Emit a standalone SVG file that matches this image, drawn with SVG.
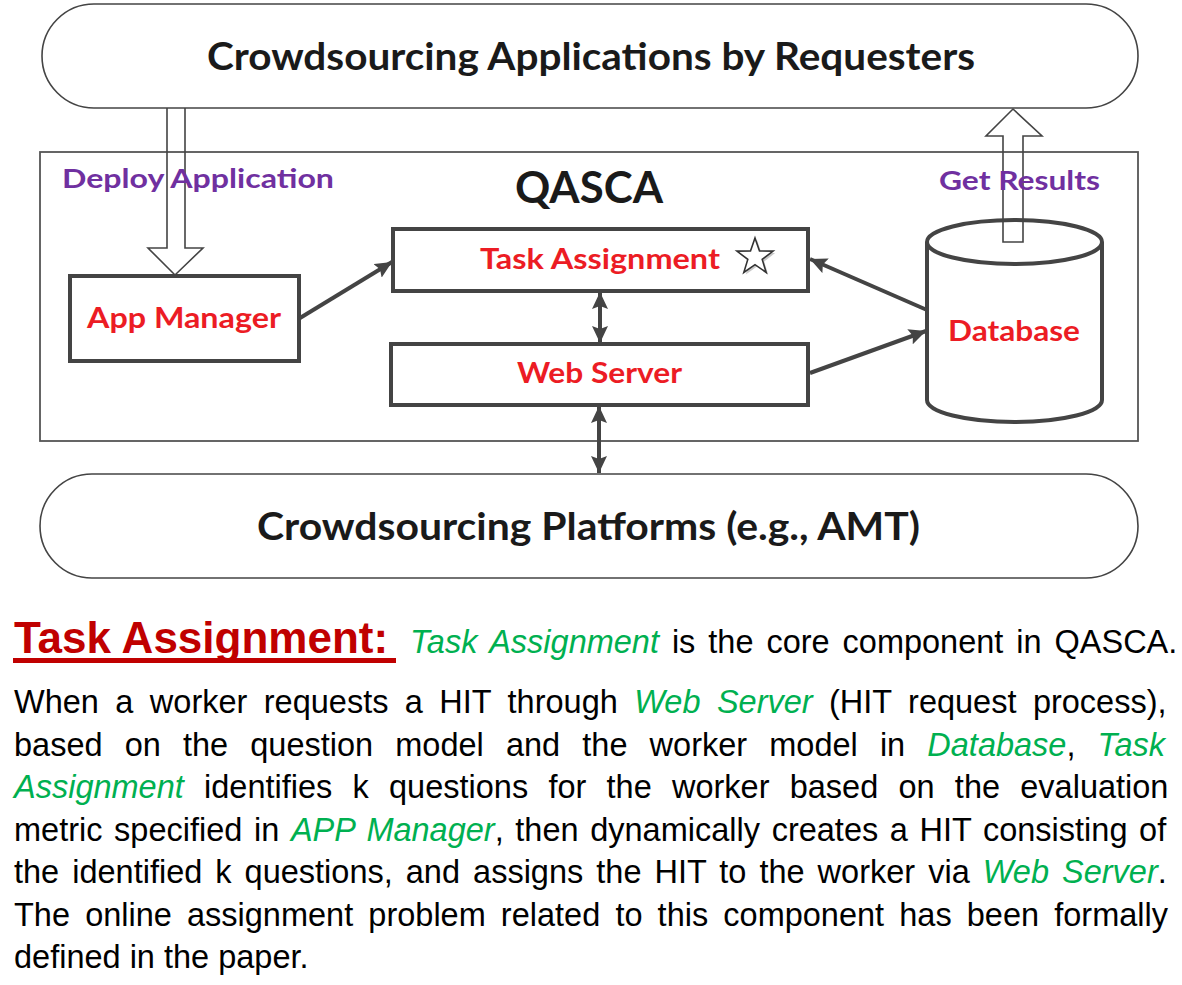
<svg xmlns="http://www.w3.org/2000/svg" width="1182" height="985" viewBox="0 0 1182 985">
<defs>
<marker id="ah" markerUnits="userSpaceOnUse" markerWidth="18" markerHeight="16" refX="17" refY="8" orient="auto-start-reverse">
<path d="M0,0 L17,8 L0,16 L3,8 z" fill="#444"/>
</marker>
<style>
.dt{font-family:Lato,"Open Sans","Noto Sans",sans-serif;font-weight:bold;}
.red{fill:#EC1C24;font-size:28px;}
.pur{fill:#7030A0;font-size:27px;}
.blk{fill:#1a1a1a;}
.box{fill:#fff;stroke:#444;stroke-width:4;}
.pill{fill:#fff;stroke:#444;stroke-width:1.6;}
.hollow{fill:none;stroke:#444;stroke-width:1.6;}
.conn{fill:none;stroke:#444;stroke-width:4;}
.body{font-family:"Liberation Sans",Arial,sans-serif;font-size:32.5px;fill:#000;}
.g{fill:#00B050;font-style:italic;}
</style>
</defs>
<rect width="1182" height="985" fill="#fff"/>

<g id="requesters">
<rect class="pill" x="42" y="4" width="1096" height="104" rx="52" ry="52"/>
<text class="dt blk" x="207" y="70" font-size="38" textLength="768" lengthAdjust="spacingAndGlyphs">Crowdsourcing Applications by Requesters</text>
</g>

<g id="qasca">
<rect x="40" y="152" width="1098" height="289" fill="none" stroke="#555" stroke-width="1.8"/>
<text class="dt blk" x="515" y="203" font-size="43" textLength="148" lengthAdjust="spacingAndGlyphs">QASCA</text>
</g>

<g id="platforms">
<rect class="pill" x="40" y="474" width="1098" height="104" rx="52" ry="52"/>
<text class="dt blk" x="257" y="540" font-size="38" textLength="663" lengthAdjust="spacingAndGlyphs">Crowdsourcing Platforms (e.g., AMT)</text>
</g>

<g id="app-manager">
<rect class="box" x="70" y="276" width="229" height="85"/>
<text class="dt red" x="87" y="328" textLength="194" lengthAdjust="spacingAndGlyphs">App Manager</text>
</g>

<g id="task-assignment">
<rect class="box" x="393" y="229" width="415" height="62"/>
<text class="dt red" x="480" y="269" textLength="240" lengthAdjust="spacingAndGlyphs">Task Assignment</text>
<polygon points="757,240 761.5,252.9 775.1,253.1 764.2,261.4 768.2,274.4 757,266.6 745.8,274.4 749.8,261.4 738.9,253.1 752.5,252.9" fill="#c8c8c8" stroke="none"/>
<polygon points="755,238 759.5,250.9 773.1,251.1 762.2,259.4 766.2,272.4 755,264.6 743.8,272.4 747.8,259.4 736.9,251.1 750.5,250.9" fill="#fff" stroke="#333" stroke-width="1.6" stroke-linejoin="miter"/>
</g>

<g id="web-server">
<rect class="box" x="391" y="344" width="417" height="61"/>
<text class="dt red" x="517" y="383" textLength="165" lengthAdjust="spacingAndGlyphs">Web Server</text>
</g>

<g id="database">
<path class="box" d="M927,242 L927,400 A87.5,22 0 0 0 1102,400 L1102,242 A87.5,22 0 0 0 927,242 A87.5,22 0 0 0 1102,242"/>
<text class="dt red" x="948" y="341" textLength="132" lengthAdjust="spacingAndGlyphs">Database</text>
</g>

<g id="connectors">
<path class="hollow" d="M167,108 L167,248 L148,248 L175,275 L203,248 L185,248 L185,108"/>
<path class="hollow" d="M1003,242 L1003,136 L986,136 L1013,109 L1042,136 L1023,136 L1023,242 Z"/>
<line class="conn" x1="300" y1="318" x2="392" y2="262" marker-end="url(#ah)"/>
<line class="conn" x1="927" y1="310" x2="810" y2="259" marker-end="url(#ah)"/>
<line class="conn" x1="810" y1="373" x2="926" y2="331" marker-end="url(#ah)"/>
<line class="conn" x1="600" y1="292" x2="600" y2="343" marker-start="url(#ah)" marker-end="url(#ah)"/>
<line class="conn" x1="599" y1="406" x2="599" y2="473" marker-start="url(#ah)" marker-end="url(#ah)"/>
</g>

<g id="labels">
<text class="dt pur" x="62" y="188" textLength="272" lengthAdjust="spacingAndGlyphs">Deploy Application</text>
<text class="dt pur" x="939" y="190" textLength="161" lengthAdjust="spacingAndGlyphs">Get Results</text>
</g>

<g id="description">
<text x="14" y="653" font-family="'Liberation Sans',Arial,sans-serif" font-weight="bold" font-size="44" fill="#C00000">Task Assignment:</text>
<rect x="13" y="658" width="383" height="5" fill="#C00000"/>
<text class="body" x="410" y="653" word-spacing="3.9"><tspan class="g">Task Assignment</tspan> is the core component in QASCA.</text>
<text class="body" x="14" y="713" word-spacing="7.4">When a worker requests a HIT through <tspan class="g">Web Server</tspan> (HIT request process),</text>
<text class="body" x="14" y="755.5" word-spacing="13.1">based on the question model and the worker model in <tspan class="g">Database</tspan>, <tspan class="g">Task</tspan></text>
<text class="body" x="14" y="798" word-spacing="11.2"><tspan class="g">Assignment</tspan> identifies k questions for the worker based on the evaluation</text>
<text class="body" x="14" y="840.5" word-spacing="2.6">metric specified in <tspan class="g">APP Manager</tspan>, then dynamically creates a HIT consisting of</text>
<text class="body" x="14" y="883" word-spacing="4.0">the identified k questions, and assigns the HIT to the worker via <tspan class="g">Web Server</tspan>.</text>
<text class="body" x="14" y="925.5" word-spacing="6.1">The online assignment problem related to this component has been formally</text>
<text class="body" x="14" y="968">defined in the paper.</text>
</g>
</svg>
